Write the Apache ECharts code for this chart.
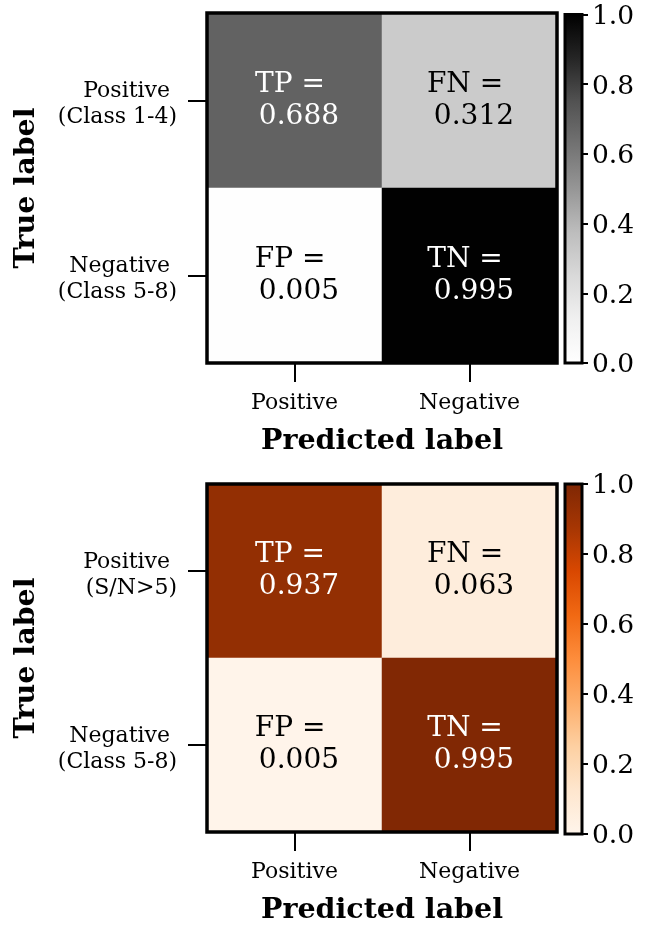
<!DOCTYPE html>
<html>
<head>
<meta charset="utf-8">
<script src="https://cdn.jsdelivr.net/npm/echarts@6/dist/echarts.min.js"></script>
<style>
  html, body { margin: 0; padding: 0; background: #ffffff; }
  #chart { width: 649px; height: 926px; }
</style>
</head>
<body>
<div id="chart"></div>
<script>
// Confusion-matrix data (row-normalised rates)
const predictedCats = ['Positive', 'Negative'];
const trueCatsTop = ['Positive \n(Class 1-4)', 'Negative \n(Class 5-8)'];
const trueCatsBottom = ['Positive \n(S/N>5)', 'Negative \n(Class 5-8)'];
const cellNames = [['TP', 'FN'], ['FP', 'TN']];
const ratesTop = [[0.688, 0.312], [0.005, 0.995]];
const ratesBottom = [[0.937, 0.063], [0.005, 0.995]];
const colorbarTicks = [0.0, 0.2, 0.4, 0.6, 0.8, 1.0];

// Sequential colour maps
const greys = ['#ffffff', '#f0f0f0', '#d9d9d9', '#bdbdbd', '#969696', '#737373', '#525252', '#252525', '#000000'];
const oranges = ['#fff5eb', '#fee6ce', '#fdd0a2', '#fdae6b', '#fd8d3c', '#f16913', '#d94801', '#a63603', '#7f2704'];

const FONT = '"DejaVu Serif", serif';

function cellData(rates) {
  const out = [];
  rates.forEach((row, r) => {
    row.forEach((v, c) => {
      out.push({
        value: [c, r, v],
        label: {
          formatter: cellNames[r][c] + ' = \n ' + v.toFixed(3),
          color: v > 0.5 ? '#ffffff' : '#000000'
        }
      });
    });
  });
  return out;
}

function gradient(cmap) {
  return {
    type: 'linear', x: 0, y: 1, x2: 0, y2: 0,
    colorStops: cmap.map((c, i) => ({ offset: i / (cmap.length - 1), color: c }))
  };
}

// a thin empty first line nudges the text block below the tick's centre line
function nudged(text) {
  return '{s| }\n' + text.split('\n').map(l => '{t|' + l + '}').join('\n');
}

const panels = [
  { top: 13, trueCats: trueCatsTop, rates: ratesTop, cmap: greys },
  { top: 484, trueCats: trueCatsBottom, rates: ratesBottom, cmap: oranges }
];

const grid = [], xAxis = [], yAxis = [], series = [], visualMap = [];

panels.forEach((p, i) => {
  const gMain = i * 2, gBar = i * 2 + 1;
  grid.push({
    left: 207, top: p.top, width: 350, height: 350,
    show: true, borderWidth: 3.5, borderColor: '#000', backgroundColor: 'transparent', z: 10
  });
  grid.push({
    left: 565, top: p.top, width: 17, height: 350,
    show: true, borderWidth: 3, borderColor: '#000', backgroundColor: 'transparent', z: 10
  });

  xAxis.push({
    type: 'category', gridIndex: gMain, data: predictedCats, position: 'bottom',
    axisLine: { show: false },
    axisTick: { show: true, alignWithLabel: true, length: 19, lineStyle: { color: '#000', width: 2 } },
    axisLabel: { fontFamily: FONT, fontSize: 22, color: '#000', margin: 29 },
    splitLine: { show: false },
    name: 'Predicted label', nameLocation: 'middle', nameGap: 64,
    nameTextStyle: { fontFamily: FONT, fontSize: 28.5, fontWeight: 'bold', color: '#000' }
  });
  yAxis.push({
    type: 'category', gridIndex: gMain, data: p.trueCats, inverse: true,
    axisLine: { show: false },
    axisTick: { show: true, alignWithLabel: true, length: 19, lineStyle: { color: '#000', width: 2 } },
    axisLabel: {
      color: '#000', margin: 30, align: 'right',
      formatter: v => nudged(v),
      rich: {
        s: { fontSize: 1, lineHeight: 8 },
        t: { fontFamily: FONT, fontSize: 22, lineHeight: 26, color: '#000' }
      }
    },
    splitLine: { show: false },
    name: 'True label', nameLocation: 'middle', nameGap: 166,
    nameTextStyle: { fontFamily: FONT, fontSize: 28.5, fontWeight: 'bold', color: '#000' }
  });

  // colour bar axes
  xAxis.push({
    type: 'category', gridIndex: gBar, data: [''],
    axisLine: { show: false }, axisTick: { show: false }, axisLabel: { show: false }
  });
  yAxis.push({
    type: 'value', gridIndex: gBar, min: 0, max: 1, interval: 0.2, position: 'right',
    axisLine: { show: false },
    axisTick: { show: true, length: 6, lineStyle: { color: '#000', width: 2 } },
    axisLabel: {
      color: '#000', margin: 10,
      formatter: v => '{s| }\n{t|' + colorbarTicks.find(t => Math.abs(t - v) < 1e-9).toFixed(1) + '}',
      rich: {
        s: { fontSize: 1, lineHeight: 5 },
        t: { fontFamily: FONT, fontSize: 26.5, lineHeight: 28, color: '#000' }
      }
    },
    splitLine: { show: false }
  });

  visualMap.push({
    show: false, type: 'continuous', min: 0, max: 1, dimension: 2,
    seriesIndex: i * 2, inRange: { color: p.cmap }
  });

  series.push({
    type: 'heatmap', xAxisIndex: gMain, yAxisIndex: gMain,
    data: cellData(p.rates),
    label: { show: true, fontFamily: FONT, fontSize: 28, lineHeight: 32, align: 'center' },
    itemStyle: { borderWidth: 0 },
    emphasis: { disabled: true }
  });
  series.push({
    type: 'bar', xAxisIndex: gBar, yAxisIndex: gBar,
    data: [1], barWidth: '100%', silent: true,
    itemStyle: { color: gradient(p.cmap) }
  });
});

const chart = echarts.init(document.getElementById('chart'), null, { renderer: 'canvas' });
chart.setOption({
  animation: false,
  backgroundColor: '#ffffff',
  grid, xAxis, yAxis, visualMap, series
});
</script>
</body>
</html>
